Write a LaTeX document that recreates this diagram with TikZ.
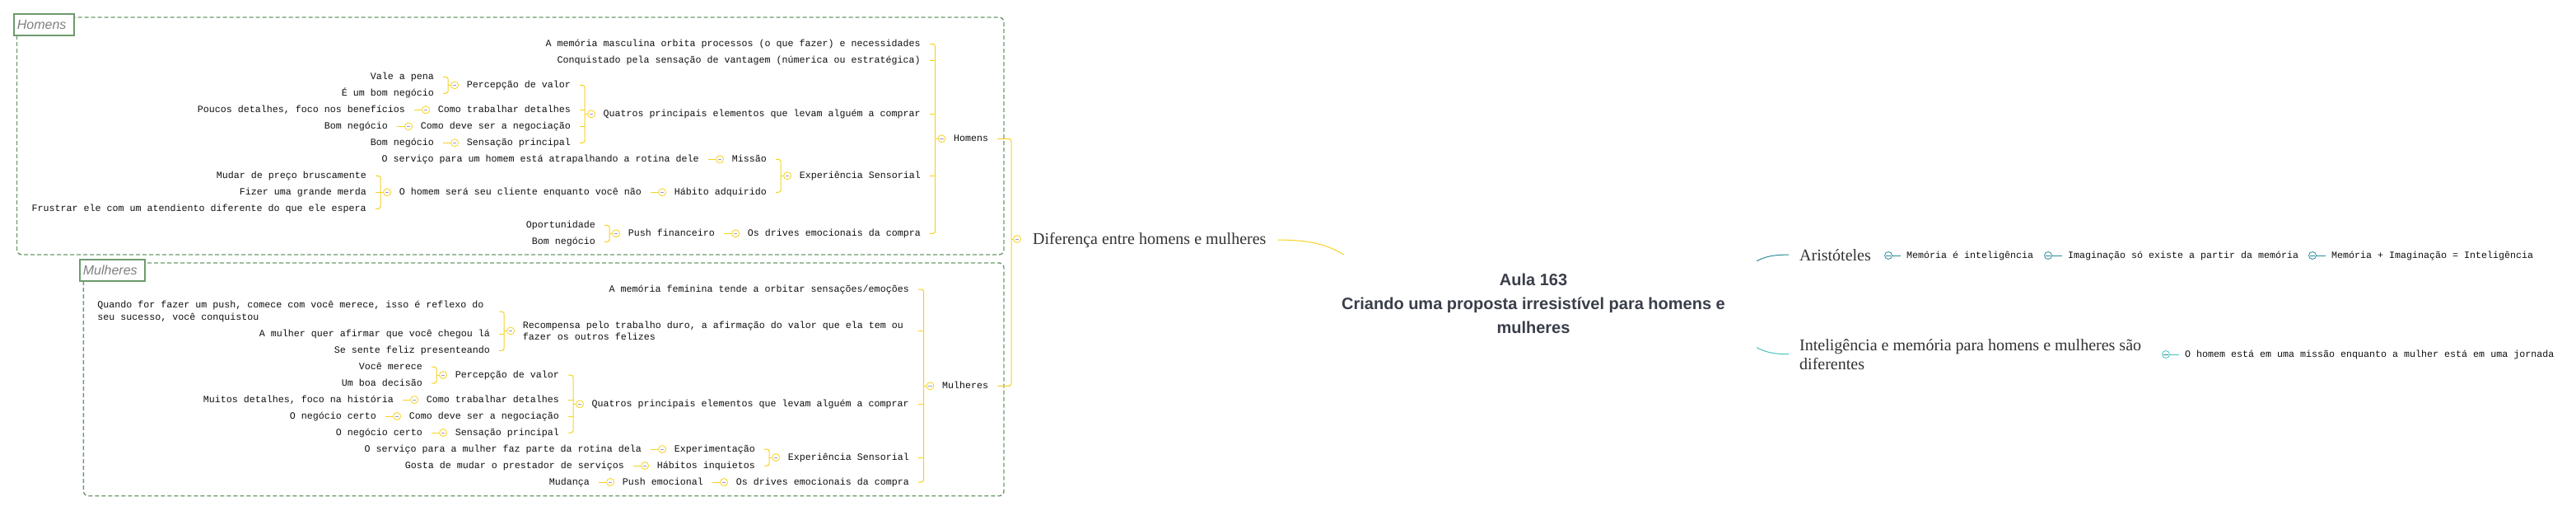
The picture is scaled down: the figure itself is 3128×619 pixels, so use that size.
\documentclass[tikz,border=0pt]{standalone}
\usepackage{fontspec}
\newfontfamily\mono{Liberation Mono}
\newfontfamily\serf{Liberation Serif}
\newfontfamily\sansf{Liberation Sans}
\usetikzlibrary{calc}
\definecolor{yc}{HTML}{F7D21E}
\definecolor{gc}{HTML}{6E9A6E}
\definecolor{tc}{HTML}{111111}
\definecolor{sc}{HTML}{333333}
\definecolor{ttl}{HTML}{3A3E4A}
\definecolor{mc}{HTML}{9A9AC8}
\definecolor{tla}{HTML}{2A8C98}
\definecolor{tlb}{HTML}{48C2C0}
\definecolor{lab}{HTML}{808080}
\tikzset{
 mt/.style={font=\fontsize{11.667}{14.3}\selectfont\mono, text=tc, inner sep=0pt, text height=7pt, text depth=0pt},
 mtl/.style={font=\fontsize{11.667}{14.3}\selectfont\mono, text=tc, inner sep=0pt, align=left},
 sf/.style={font=\fontsize{20}{23}\selectfont\serf, text=sc, inner sep=0pt},
 yl/.style={draw=yc, line width=1pt},
 cir/.style={circle, draw=yc, fill=white, line width=0.8pt, minimum size=9pt, inner sep=0pt,
   path picture={\draw[mc, line width=0.9pt] ([xshift=-2.3pt]path picture bounding box.center) -- ([xshift=2.3pt]path picture bounding box.center);}},
 tcir/.style={circle, draw=tla, fill=white, line width=0.8pt, minimum size=9pt, inner sep=0pt,
   path picture={\draw[tla, line width=0.9pt] ([xshift=-2.6pt]path picture bounding box.center) -- ([xshift=2.6pt]path picture bounding box.center);}},
 tcirb/.style={tcir, draw=tlb},
 tln/.style={draw=tla, line width=1pt},
 tlnb/.style={draw=tlb, line width=1pt},
 bnd/.style={draw=gc, line width=1.4pt, dash pattern=on 5pt off 3pt, rounded corners=6pt},
 lbl/.style={draw=gc, line width=1.8pt, fill=white, anchor=north west, font=\fontsize{16}{18}\selectfont\sansf\itshape, text=lab, inner xsep=4pt, inner ysep=0pt, minimum height=26pt, align=left, text width=#1},
}
\newcommand\lcirc[1]{\node[cir] (#1c) at ([xshift=-14.5pt]#1.west) {};}
\newcommand\mybrk[3]{%
 \coordinate (#1b) at ([xshift=-3pt]#1c.west);
 \draw[yl, rounded corners=3pt] ([xshift=11pt]#2.east) -| (#1b) |- ([xshift=11pt]#3.east);
 \draw[yl] (#1b) -- (#1c.west);}
\newcommand\midc[2]{\draw[yl] ([xshift=11pt]#2.east) -- (#1b |- #2.east);}
\newcommand\mysing[2]{\draw[yl] ([xshift=11pt]#2.east) -- (#1c.west);}
\begin{document}
\begin{tikzpicture}[x=1pt,y=-1pt]
\fill[white] (0,0) rectangle (3128,619);
\useasboundingbox (0,0) rectangle (3128,619);

% boundaries
\draw[bnd] (20.5,21) rectangle (1219,309);
\node[lbl=65pt] (Lh) at (16,16) {Homens};
\draw[bnd] (101.4,319) rectangle (1219,601.7);
\node[lbl=71pt] (Lm) at (96,314) {Mulheres};

% ---------- Homens ----------
\node[mt, anchor=west] (H) at (1158,168.3) {Homens};
\node[mt, anchor=east] (h1) at (1118,53.3) {A memória masculina orbita processos (o que fazer) e necessidades};
\node[mt, anchor=east] (h2) at (1118,73.3) {Conquistado pela sensação de vantagem (númerica ou estratégica)};
\node[mt, anchor=east] (h3) at (1118,138.3) {Quatros principais elementos que levam alguém a comprar};
\node[mt, anchor=east] (h4) at (1118,213.3) {Experiência Sensorial};
\node[mt, anchor=east] (h5) at (1118,283.3) {Os drives emocionais da compra};

\node[mt, anchor=east] (h31) at (693,103.3) {Percepção de valor};
\node[mt, anchor=east] (h32) at (693,133.3) {Como trabalhar detalhes};
\node[mt, anchor=east] (h33) at (693,153.3) {Como deve ser a negociação};
\node[mt, anchor=east] (h34) at (693,173.3) {Sensação principal};
\node[mt, anchor=east] (h311) at (527,93.3) {Vale a pena};
\node[mt, anchor=east] (h312) at (527,113.3) {É um bom negócio};
\node[mt, anchor=east] (h321) at (492,133.3) {Poucos detalhes, foco nos benefícios};
\node[mt, anchor=east] (h331) at (471,153.3) {Bom negócio};
\node[mt, anchor=east] (h341) at (527,173.3) {Bom negócio};

\node[mt, anchor=east] (h41) at (931,193.3) {Missão};
\node[mt, anchor=east] (h42) at (931,233.3) {Hábito adquirido};
\node[mt, anchor=east] (h411) at (849,193.3) {O serviço para um homem está atrapalhando a rotina dele};
\node[mt, anchor=east] (h421) at (779,233.3) {O homem será seu cliente enquanto você não};
\node[mt, anchor=east] (h4211) at (445,213.3) {Mudar de preço bruscamente};
\node[mt, anchor=east] (h4212) at (445,233.3) {Fizer uma grande merda};
\node[mt, anchor=east] (h4213) at (445,253.3) {Frustrar ele com um atendiento diferente do que ele espera};

\node[mt, anchor=east] (h51) at (868,283.3) {Push financeiro};
\node[mt, anchor=east] (h511) at (723,273.3) {Oportunidade};
\node[mt, anchor=east] (h512) at (723,293.3) {Bom negócio};

% ---------- Mulheres ----------
\node[mt, anchor=west] (M) at (1144,468.3) {Mulheres};
\node[mt, anchor=east] (m1) at (1104,351) {A memória feminina tende a orbitar sensações/emoções};
\node[mtl, anchor=east] (m2) at (1104,401.5) {\makebox[469pt][l]{Recompensa pelo trabalho duro, a afirmação do valor que ela tem ou}\\fazer os outros felizes};
\node[mt, anchor=east] (m3) at (1104,490.3) {Quatros principais elementos que levam alguém a comprar};
\node[mt, anchor=east] (m4) at (1104,555) {Experiência Sensorial};
\node[mt, anchor=east] (m5) at (1104,585) {Os drives emocionais da compra};

\node[mtl, anchor=east] (m21) at (595,378) {\makebox[476.4pt][l]{Quando for fazer um push, comece com você merece, isso é reflexo do}\\seu sucesso, você conquistou};
\node[mt, anchor=east] (m22) at (595,405.3) {A mulher quer afirmar que você chegou lá};
\node[mt, anchor=east] (m23) at (595,425.3) {Se sente feliz presenteando};

\node[mt, anchor=east] (m31) at (679,455) {Percepção de valor};
\node[mt, anchor=east] (m32) at (679,485) {Como trabalhar detalhes};
\node[mt, anchor=east] (m33) at (679,505) {Como deve ser a negociação};
\node[mt, anchor=east] (m34) at (679,525) {Sensação principal};
\node[mt, anchor=east] (m311) at (513,445) {Você merece};
\node[mt, anchor=east] (m312) at (513,465) {Um boa decisão};
\node[mt, anchor=east] (m321) at (478,485) {Muitos detalhes, foco na história};
\node[mt, anchor=east] (m331) at (457,505) {O negócio certo};
\node[mt, anchor=east] (m341) at (513,525) {O negócio certo};

\node[mt, anchor=east] (m41) at (917,545) {Experimentação};
\node[mt, anchor=east] (m42) at (917,565) {Hábitos inquietos};
\node[mt, anchor=east] (m411) at (779,545) {O serviço para a mulher faz parte da rotina dela};
\node[mt, anchor=east] (m421) at (758,565) {Gosta de mudar o prestador de serviços};

\node[mt, anchor=east] (m51) at (854,585) {Push emocional};
\node[mt, anchor=east] (m511) at (716,585) {Mudança};

% ---------- circles ----------
\foreach \n in {H,h3,h31,h32,h33,h34,h4,h41,h42,h421,h5,h51,M,m2,m3,m31,m32,m33,m34,m4,m41,m42,m5,m51} {\lcirc{\n}}

% ---------- brackets / links ----------
\mybrk{H}{h1}{h5} \midc{H}{h2} \midc{H}{h3} \midc{H}{h4}
\mybrk{h3}{h31}{h34} \midc{h3}{h32} \midc{h3}{h33}
\mybrk{h31}{h311}{h312}
\mysing{h32}{h321} \mysing{h33}{h331} \mysing{h34}{h341}
\mybrk{h4}{h41}{h42}
\mysing{h41}{h411} \mysing{h42}{h421}
\mybrk{h421}{h4211}{h4213} \midc{h421}{h4212}
\mysing{h5}{h51}
\mybrk{h51}{h511}{h512}

\mybrk{M}{m1}{m5} \midc{M}{m2} \midc{M}{m3} \midc{M}{m4}
\mybrk{m2}{m21}{m23} \midc{m2}{m22}
\mybrk{m3}{m31}{m34} \midc{m3}{m32} \midc{m3}{m33}
\mybrk{m31}{m311}{m312}
\mysing{m32}{m321} \mysing{m33}{m331} \mysing{m34}{m341}
\mybrk{m4}{m41}{m42}
\mysing{m41}{m411} \mysing{m42}{m421}
\mysing{m5}{m51} \mysing{m51}{m511}

% ---------- Diferença ----------
\node[sf, anchor=base west] (D) at (1254,296) {Diferença entre homens e mulheres};
\node[cir] (Dc) at (1235,290) {};
\coordinate (Db) at (1228,290);
\draw[yl, rounded corners=3pt] ([xshift=11pt]H.east) -| (Db) |- ([xshift=11pt]M.east);
\draw[yl] (Db) -- (Dc.west);

% ---------- title ----------
\node[font=\fontsize{20}{29}\selectfont\sansf\bfseries, text=ttl, align=center, inner sep=0pt] (T) at (1862,368) {Aula 163\\Criando uma proposta irresistível para homens e\\mulheres};
\coordinate (Tl) at (1632,309);
\coordinate (Tr1) at (2133,316.7);
\coordinate (Tr2) at (2133,421.7);
\draw[yl] ([xshift=14pt]D.east) .. controls +(38,0) and +(-22,-13) .. (Tl);

% ---------- right side ----------
\node[sf, anchor=base west] (A) at (2185,316) {Aristóteles};
\node[tcir] (Ac) at (2293,310) {};
\node[mt, anchor=west] (A1) at (2315,310) {Memória é inteligência};
\node[tcir] (A1c) at (2487,310) {};
\node[mt, anchor=west] (A2) at (2511,310) {Imaginação só existe a partir da memória};
\node[tcir] (A2c) at (2808,310) {};
\node[mt, anchor=west] (A3) at (2831,310) {Memória + Imaginação = Inteligência};
\draw[tln] (Ac.east) -- ([xshift=-7pt]A1.west);
\draw[tln] (A1c.east) -- ([xshift=-7pt]A2.west);
\draw[tln] (A2c.east) -- ([xshift=-7pt]A3.west);
\draw[tln] (Tr1) .. controls +(12,-6) and +(-18,0) .. ([xshift=-13pt]A.west);

\node[sf, anchor=west, align=left] (I) at (2185,429.7) {Inteligência e memória para homens e mulheres são\\diferentes};
\node[tcirb] (Ic) at (2630,430) {};
\node[mt, anchor=west] (I1) at (2653,430) {O homem está em uma missão enquanto a mulher está em uma jornada};
\draw[tlnb] (Ic.east) -- ([xshift=-7pt]I1.west);
\draw[tlnb] (Tr2) .. controls +(12,6) and +(-18,0) .. ([xshift=-13pt]I.west);
\end{tikzpicture}
\end{document}
